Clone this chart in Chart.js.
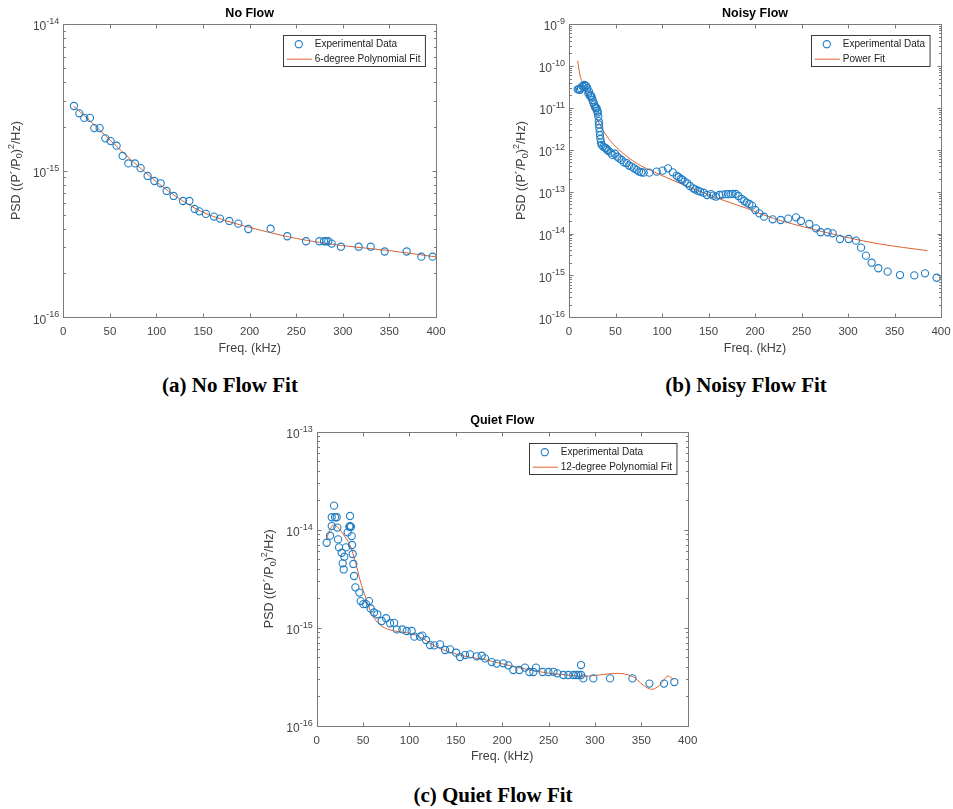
<!DOCTYPE html>
<html>
<head>
<meta charset="utf-8">
<title>PSD fits</title>
<script src="https://cdn.jsdelivr.net/npm/chart.js@4.4.1/dist/chart.umd.min.js"></script>
<style>
  body {
    margin: 0;
    background: #fff;
    width: 953px;
    height: 809px;
    position: relative;
    overflow: hidden;
  }
  .panel { position: absolute; }
  .caption {
    position: absolute;
    transform: translateX(-50%);
    font-family: "Liberation Serif", "Times New Roman", serif;
    font-weight: bold;
    font-size: 21px;
    line-height: 24px;
    color: #000;
    white-space: nowrap;
  }
</style>
</head>
<body>
<div class="panel" style="left:0;top:0;width:470px;height:360px"><canvas id="noFlowChart"></canvas></div>
<div class="panel" style="left:480px;top:0;width:473px;height:360px"><canvas id="noisyFlowChart"></canvas></div>
<div class="panel" style="left:250px;top:400px;width:460px;height:370px"><canvas id="quietFlowChart"></canvas></div>

<div class="caption" style="left:230px;top:373px">(a) No Flow Fit</div>
<div class="caption" style="left:746px;top:373px">(b) Noisy Flow Fit</div>
<div class="caption" style="left:493px;top:783px">(c) Quiet Flow Fit</div>

<script>
// frequency ticks shared by the three plots (kHz)
const freqTicks = [0, 50, 100, 150, 200, 250, 300, 350, 400];

// ---- No Flow ----
const noFlowDecades = [-16, -15, -14];
const noFlowFreq = [11.4, 17.2, 22.5, 28.6, 33.3, 39.0, 45.1, 50.8, 57.2, 63.7, 69.8, 76.9, 83.0,
  90.5, 97.7, 104.5, 110.9, 118.4, 128.5, 135.3, 141.0, 146.0, 153.1, 161.7, 168.2, 178.2, 187.8,
  198.6, 222.5, 240.4, 260.5, 274.8, 279.8, 282.0, 284.4, 288.0, 298.0, 317.0, 329.9, 344.9,
  368.5, 384.3, 396.4];
const noFlowPsd = [2.76e-15, 2.46e-15, 2.29e-15, 2.29e-15, 1.95e-15, 1.95e-15, 1.66e-15, 1.59e-15,
  1.48e-15, 1.26e-15, 1.12e-15, 1.12e-15, 1.04e-15, 9.2e-16, 8.5e-16, 8.2e-16, 7.27e-16, 6.72e-16,
  6.21e-16, 6.21e-16, 5.48e-16, 5.28e-16, 5.07e-16, 4.86e-16, 4.71e-16, 4.54e-16, 4.35e-16, 4.0e-16,
  4.02e-16, 3.57e-16, 3.3e-16, 3.3e-16, 3.3e-16, 3.3e-16, 3.3e-16, 3.18e-16, 3.03e-16, 3.03e-16,
  3.03e-16, 2.81e-16, 2.81e-16, 2.59e-16, 2.59e-16];
const noFlowFitFreq = [11, 25, 50, 75, 100, 125, 150, 175, 200, 250, 300, 350, 400];
const noFlowFitPsd = [2.75e-15, 2.3e-15, 1.62e-15, 1.15e-15, 8.4e-16, 6.4e-16, 5.2e-16, 4.55e-16,
  4.1e-16, 3.45e-16, 3.08e-16, 2.85e-16, 2.58e-16];

// ---- Noisy Flow ----
const noisyDecades = [-16, -15, -14, -13, -12, -11, -10, -9];
const noisyFreq = [9.3, 10.5, 11.8, 12.9, 14.3, 15.4, 16.5, 17.9, 18.3, 19.7, 20.8, 21.5, 22.6,
  23.7, 24.4, 25.4, 26.2, 27.2, 28.0, 29.0, 29.7, 30.5, 31.0, 31.5, 32.0, 32.3, 32.6, 33.0, 33.3,
  33.8, 34.4, 35.1, 36.9, 38.5, 39.8, 41.0, 42.3, 44.8, 46.6, 49.5, 52.0, 54.1, 56.6, 59.1, 62.0,
  64.5, 67.4, 69.9, 72.8, 75.3, 77.8, 80.3, 86.4, 94.3, 100.7, 106.4, 111.5, 115.8, 117.9, 120.4,
  122.0, 124.4, 127.2, 130.1, 133.7, 135.9, 138.7, 141.0, 144.8, 148.4, 152.7, 155.0, 158.1, 161.6,
  165.0, 168.8, 171.0, 173.8, 176.0, 179.2, 182.1, 185.7, 188.5, 191.0, 193.9, 196.8, 200.3, 204.6,
  209.7, 219.0, 227.6, 235.8, 244.1, 249.4, 258.4, 265.6, 270.6, 278.1, 283.5, 291.4, 300.7, 308.6,
  314.0, 319.3, 325.4, 332.6, 342.6, 355.9, 371.3, 382.8, 395.3];
const noisyPsd = [2.76e-11, 2.8e-11, 2.7e-11, 2.9e-11, 3.3e-11, 3.2e-11, 3.5e-11, 3.37e-11, 3.3e-11,
  2.92e-11, 2.2e-11, 2.43e-11, 1.91e-11, 1.95e-11, 1.8e-11, 1.54e-11, 1.35e-11, 1.2e-11, 1.05e-11,
  1.0e-11, 9.7e-12, 8.5e-12, 7.7e-12, 6.2e-12, 4.8e-12, 4.0e-12, 3.3e-12, 2.7e-12, 2.2e-12, 1.8e-12,
  1.5e-12, 1.3e-12, 1.18e-12, 1.12e-12, 1.08e-12, 1.0e-12, 9.4e-13, 8.5e-13, 7.5e-13, 8.0e-13,
  6.8e-13, 6.2e-13, 5.7e-13, 5.0e-13, 4.8e-13, 4.2e-13, 3.95e-13, 3.6e-13, 3.3e-13, 3.0e-13, 2.9e-13,
  2.83e-13, 2.83e-13, 2.99e-13, 3.16e-13, 3.59e-13, 2.88e-13, 2.4e-13, 2.2e-13, 2.0e-13, 1.9e-13,
  1.73e-13, 1.58e-13, 1.36e-13, 1.2e-13, 1.12e-13, 1.05e-13, 1.0e-13, 9.4e-14, 8.3e-14, 8.7e-14,
  8.0e-14, 7.6e-14, 8.3e-14, 8.5e-14, 8.7e-14, 8.7e-14, 8.7e-14, 8.8e-14, 8.8e-14, 7.86e-14,
  6.67e-14, 5.97e-14, 5.45e-14, 5.06e-14, 4.62e-14, 3.64e-14, 3.03e-14, 2.52e-14, 2.18e-14, 2.1e-14,
  2.26e-14, 2.43e-14, 1.99e-14, 1.69e-14, 1.33e-14, 1.07e-14, 1.07e-14, 1.01e-14, 7.4e-15, 7.4e-15,
  6.75e-15, 4.59e-15, 2.96e-15, 2.01e-15, 1.48e-15, 1.23e-15, 1.02e-15, 1.0e-15, 1.12e-15, 8.8e-16];
const noisyFitFreq = [9.3, 11.8, 16.5, 22.6, 29.7, 40.5, 54.8, 72.8, 90.7, 119.3, 155.2, 191.0,
  219.7, 262.7, 298.5, 334.4, 385.3];
const noisyFitPsd = [1.33e-10, 6.07e-11, 3.08e-11, 1.23e-11, 5.61e-12, 2.12e-12, 9.5e-13, 4.73e-13,
  2.99e-13, 1.58e-13, 7.57e-14, 3.99e-14, 2.3e-14, 1.26e-14, 8.1e-15, 5.6e-15, 3.9e-15];

// ---- Quiet Flow ----
const quietDecades = [-16, -15, -14, -13];
const quietFreq = [10.8, 14.4, 16.2, 16.2, 18.7, 19.8, 21.6, 22.3, 23.0, 24.1, 27.0, 28.0, 29.1,
  29.8, 31.6, 33.4, 35.2, 35.9, 35.9, 37.0, 37.7, 38.1, 38.8, 39.5, 40.3, 41.7, 46.0, 47.4, 50.3,
  53.2, 56.4, 58.2, 61.8, 65.4, 70.1, 74.8, 79.1, 83.4, 86.3, 92.4, 97.0, 102.4, 105.3, 111.4, 113.9,
  117.9, 122.2, 126.9, 133.0, 138.4, 143.8, 150.2, 154.5, 159.9, 165.3, 172.5, 177.9, 181.5, 188.7,
  194.1, 201.3, 206.7, 212.0, 218.5, 224.6, 229.3, 233.6, 236.5, 243.7, 249.8, 255.2, 259.5, 266.0,
  271.3, 276.7, 279.6, 282.1, 285.0, 285.0, 287.5, 298.3, 316.3, 340.4, 358.7, 374.5, 385.6];
const quietPsd = [7.36e-15, 8.69e-15, 1.09e-14, 1.34e-14, 1.76e-14, 1.34e-14, 1.34e-14, 1.05e-14,
  7.96e-15, 6.6e-15, 5.82e-15, 4.53e-15, 3.93e-15, 5.3e-15, 6.6e-15, 9.4e-15, 1.07e-14, 1.38e-14,
  1.09e-14, 1.07e-14, 8.6e-15, 6.98e-15, 5.65e-15, 4.47e-15, 3.37e-15, 2.58e-15, 2.28e-15, 1.87e-15,
  1.74e-15, 1.74e-15, 1.87e-15, 1.57e-15, 1.43e-15, 1.37e-15, 1.17e-15, 1.25e-15, 1.11e-15, 1.12e-15,
  9.6e-16, 9.6e-16, 9.25e-16, 9.25e-16, 8.1e-16, 8.1e-16, 8.3e-16, 7.48e-16, 6.65e-16, 6.6e-16,
  6.76e-16, 5.92e-16, 6.01e-16, 5.56e-16, 5.02e-16, 5.26e-16, 5.34e-16, 5.1e-16, 5.18e-16, 4.86e-16,
  4.46e-16, 4.3e-16, 4.33e-16, 4.13e-16, 3.7e-16, 3.7e-16, 3.91e-16, 3.53e-16, 3.53e-16, 3.91e-16,
  3.53e-16, 3.53e-16, 3.55e-16, 3.42e-16, 3.29e-16, 3.29e-16, 3.29e-16, 3.29e-16, 3.29e-16, 4.16e-16,
  3.29e-16, 3.04e-16, 3.04e-16, 3.04e-16, 3.04e-16, 2.69e-16, 2.69e-16, 2.79e-16];
const quietFitFreq = [10, 14, 18, 24, 30, 36, 42, 47, 53, 59, 66, 73, 85, 97, 111, 126, 144, 162,
  180, 198, 216, 234, 252, 273, 288, 305, 323, 341, 352, 361, 370, 379, 385];
const quietFitPsd = [7.9e-15, 9.8e-15, 1.12e-14, 1.03e-14, 8.6e-15, 6.9e-15, 4.6e-15, 3.0e-15,
  2.0e-15, 1.4e-15, 1.12e-15, 1.0e-15, 9.2e-16, 8.9e-16, 8.1e-16, 6.6e-16, 5.6e-16, 5.06e-16,
  4.75e-16, 4.33e-16, 3.94e-16, 3.64e-16, 3.42e-16, 3.27e-16, 3.19e-16, 3.3e-16, 3.42e-16, 3.16e-16,
  2.6e-16, 2.35e-16, 2.6e-16, 3.21e-16, 2.92e-16];

const dataBlue = "#1f7dc4";
const fitOrange = "#e0602e";
const sans = '"Liberation Sans", Arial, Helvetica, sans-serif';

const zip = (xs, ys) => xs.map((x, i) => ({ x: x, y: ys[i] }));
const pow10 = (e) => Number("1e" + e);

// draws a run of text pieces (with sub/superscripts) centred on x
function drawRich(ctx, parts, x, y) {
  let total = 0;
  parts.forEach((p) => {
    ctx.font = p.size + "px " + sans;
    p.w = ctx.measureText(p.t).width;
    total += p.w;
  });
  let cx = x - total / 2;
  ctx.textAlign = "left";
  ctx.textBaseline = "middle";
  parts.forEach((p) => {
    ctx.font = p.size + "px " + sans;
    ctx.fillText(p.t, cx, y + (p.dy || 0));
    cx += p.w;
  });
}

// MATLAB-style box, inward ticks, decade labels, titles and legend
const matlabAxes = {
  id: "matlabAxes",
  afterDatasetsDraw(chart, args, o) {
    const { ctx, chartArea: a } = chart;
    const xs = chart.scales.x;
    const ys = chart.scales.y;
    const L = Math.round(a.left) + 0.5;
    const R = Math.round(a.right) + 0.5;
    const T = Math.round(a.top) + 0.5;
    const B = Math.round(a.bottom) + 0.5;

    ctx.save();
    ctx.strokeStyle = "#7a7a7a";
    ctx.lineWidth = 1;
    ctx.strokeRect(L, T, R - L, B - T);

    ctx.beginPath();
    freqTicks.forEach((v) => {
      const px = Math.round(xs.getPixelForValue(v)) + 0.5;
      ctx.moveTo(px, B); ctx.lineTo(px, B - 4);
      ctx.moveTo(px, T); ctx.lineTo(px, T + 4);
    });
    o.decades.forEach((e, i) => {
      const py = Math.round(ys.getPixelForValue(pow10(e))) + 0.5;
      ctx.moveTo(L, py); ctx.lineTo(L + 4, py);
      ctx.moveTo(R, py); ctx.lineTo(R - 4, py);
      if (i < o.decades.length - 1) {
        for (let m = 2; m <= 9; m++) {
          const pm = Math.round(ys.getPixelForValue(m * pow10(e))) + 0.5;
          ctx.moveTo(L, pm); ctx.lineTo(L + 2.5, pm);
          ctx.moveTo(R, pm); ctx.lineTo(R - 2.5, pm);
        }
      }
    });
    ctx.stroke();

    // decade labels: 10 with a raised exponent
    ctx.fillStyle = "#444";
    ctx.textAlign = "right";
    ctx.textBaseline = "middle";
    o.decades.forEach((e) => {
      const py = ys.getPixelForValue(pow10(e));
      ctx.font = "9px " + sans;
      const exp = String(e);
      const ew = ctx.measureText(exp).width;
      ctx.fillText(exp, a.left - 4, py - 2.5);
      ctx.font = "12px " + sans;
      ctx.fillText("10", a.left - 4 - ew, py + 3);
    });

    // plot title
    ctx.fillStyle = "#000";
    ctx.textAlign = "center";
    ctx.font = "bold 12.5px " + sans;
    ctx.fillText(o.title, (a.left + a.right) / 2, a.top - 10.7);

    // axis titles
    ctx.fillStyle = "#404040";
    ctx.font = "12.5px " + sans;
    ctx.fillText("Freq. (kHz)", (a.left + a.right) / 2, a.bottom + 31);

    ctx.save();
    ctx.translate(a.left - 47, (a.top + a.bottom) / 2);
    ctx.rotate(-Math.PI / 2);
    drawRich(ctx, [
      { t: "PSD ((P\u00b4/P", size: 12.5 },
      { t: "0", size: 9, dy: 3.5 },
      { t: ")", size: 12.5 },
      { t: "2", size: 9, dy: -5 },
      { t: "/Hz)", size: 12.5 }
    ], 0, 0);
    ctx.restore();

    // legend box in the upper right corner
    const labels = chart.data.datasets.map((d) => d.label);
    ctx.font = "10px " + sans;
    const tw = Math.max(...labels.map((t) => ctx.measureText(t).width));
    const w = 31.3 + tw + 5;
    const h = 31;
    const x0 = Math.round(a.right - 11 - w) + 0.5;
    const y0 = Math.round(a.top + 11) + 0.5;
    ctx.fillStyle = "#fff";
    ctx.fillRect(x0, y0, w, h);
    ctx.strokeStyle = "#3a3a3a";
    ctx.strokeRect(x0, y0, w, h);

    ctx.strokeStyle = dataBlue;
    ctx.lineWidth = 1.1;
    ctx.beginPath();
    ctx.arc(x0 + 15.3, y0 + 8.7, 3.6, 0, Math.PI * 2);
    ctx.stroke();
    ctx.strokeStyle = fitOrange;
    ctx.lineWidth = 1;
    ctx.beginPath();
    ctx.moveTo(x0 + 3.3, y0 + 23.7);
    ctx.lineTo(x0 + 28.3, y0 + 23.7);
    ctx.stroke();

    ctx.fillStyle = "#222";
    ctx.textAlign = "left";
    ctx.textBaseline = "middle";
    ctx.fillText(labels[0], x0 + 31.3, y0 + 8.7);
    ctx.fillText(labels[1], x0 + 31.3, y0 + 23.7);
    ctx.restore();
  }
};

function psdChart(id, cfg) {
  const canvas = document.getElementById(id);
  const holder = canvas.parentNode;
  const W = holder.clientWidth;
  const H = holder.clientHeight;
  const area = cfg.area;

  return new Chart(canvas, {
    type: "scatter",
    data: {
      datasets: [
        {
          label: "Experimental Data",
          data: zip(cfg.freq, cfg.psd),
          pointStyle: "circle",
          pointRadius: 3.6,
          pointBorderWidth: 1.1,
          borderColor: dataBlue,
          backgroundColor: "rgba(0,0,0,0)",
          clip: false
        },
        {
          type: "line",
          label: cfg.fitLabel,
          data: zip(cfg.fitFreq, cfg.fitPsd),
          borderColor: fitOrange,
          borderWidth: 1,
          pointRadius: 0,
          fill: false,
          cubicInterpolationMode: "monotone"
        }
      ]
    },
    options: {
      responsive: true,
      maintainAspectRatio: false,
      animation: false,
      events: [],
      layout: {
        autoPadding: false,
        padding: { left: area.left, top: area.top, right: W - area.right, bottom: 0 }
      },
      plugins: {
        legend: { display: false },
        tooltip: { enabled: false },
        matlabAxes: { title: cfg.title, decades: cfg.decades }
      },
      scales: {
        x: {
          type: "linear",
          min: 0,
          max: 400,
          afterBuildTicks: (s) => { s.ticks = freqTicks.map((v) => ({ value: v })); },
          afterFit: (s) => { s.height = H - area.bottom; },
          grid: { display: false },
          border: { display: false },
          ticks: {
            color: "#444",
            padding: 0,
            maxRotation: 0,
            font: { family: sans, size: 11.5 }
          }
        },
        y: {
          type: "logarithmic",
          min: pow10(cfg.decades[0]),
          max: pow10(cfg.decades[cfg.decades.length - 1]),
          afterBuildTicks: (s) => { s.ticks = cfg.decades.map((e) => ({ value: pow10(e) })); },
          afterFit: (s) => { s.width = 0; },
          grid: { display: false },
          border: { display: false },
          ticks: { display: false }
        }
      }
    },
    plugins: [matlabAxes]
  });
}

psdChart("noFlowChart", {
  title: "No Flow",
  fitLabel: "6-degree Polynomial Fit",
  decades: noFlowDecades,
  freq: noFlowFreq,
  psd: noFlowPsd,
  fitFreq: noFlowFitFreq,
  fitPsd: noFlowFitPsd,
  area: { left: 63.3, top: 24, right: 436, bottom: 317.3 }
});

psdChart("noisyFlowChart", {
  title: "Noisy Flow",
  fitLabel: "Power Fit",
  decades: noisyDecades,
  freq: noisyFreq,
  psd: noisyPsd,
  fitFreq: noisyFitFreq,
  fitPsd: noisyFitPsd,
  area: { left: 89, top: 24, right: 461, bottom: 317.3 }
});

psdChart("quietFlowChart", {
  title: "Quiet Flow",
  fitLabel: "12-degree Polynomial Fit",
  decades: quietDecades,
  freq: quietFreq,
  psd: quietPsd,
  fitFreq: quietFitFreq,
  fitPsd: quietFitPsd,
  area: { left: 66.7, top: 31.7, right: 437.7, bottom: 325.7 }
});
</script>
</body>
</html>
